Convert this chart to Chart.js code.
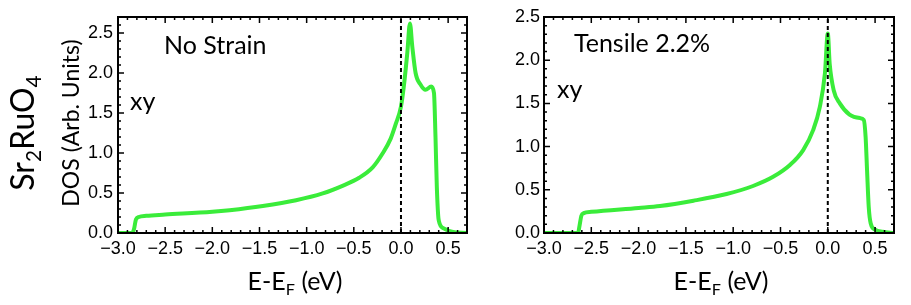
<!DOCTYPE html>
<html lang="en">
<head>
  <meta charset="UTF-8">
  <title>Sr2RuO4 DOS</title>
  <script src="https://cdn.jsdelivr.net/npm/chart.js@4.4.0/dist/chart.umd.min.js"></script>
  <style>
    body { margin: 0; background: #fff; }
    #wrap { position: relative; width: 911px; height: 305px; overflow: hidden; }
    canvas { position: absolute; top: 0; }
    .lbl { position: absolute; font-family: "Lato", sans-serif; color: #000; white-space: nowrap; line-height: 1; }
    .rot { transform: translate(-50%, -50%) rotate(-90deg); }
    .ctr { transform: translate(-50%, -50%); }
    sub { font-size: 65%; vertical-align: -0.3em; }
  </style>
</head>
<body>
  <div id="wrap">
    <canvas id="left" width="480" height="305" style="left:0"></canvas>
    <canvas id="right" width="461" height="305" style="left:450px"></canvas>

    <div class="lbl rot" style="left:25px;top:133px;font-size:32px">Sr<sub>2</sub>RuO<sub>4</sub></div>
    <div class="lbl rot" style="left:70px;top:123px;font-size:23px">DOS (Arb. Units)</div>

    <div class="lbl" style="left:164px;top:32px;font-size:25px">No Strain</div>
    <div class="lbl" style="left:130px;top:88px;font-size:25px">xy</div>
    <div class="lbl ctr" style="left:295px;top:283px;font-size:25px">E-E<sub>F</sub> (eV)</div>

    <div class="lbl" style="left:574px;top:30px;font-size:25px">Tensile 2.2%</div>
    <div class="lbl" style="left:557px;top:76px;font-size:25px">xy</div>
    <div class="lbl ctr" style="left:721px;top:283px;font-size:25px">E-E<sub>F</sub> (eV)</div>
  </div>

  <script>
    // energy (eV) and DOS for each panel
    const noStrainE   = [-3.0, -2.85, -2.83, -2.81, -2.78, -2.7, -2.5, -2.0, -1.816, -1.465, -1.112, -0.83, -0.62, -0.443, -0.30, -0.197, -0.109, -0.056, 0.0, 0.03, 0.067, 0.095, 0.12, 0.155, 0.21, 0.26, 0.32, 0.35, 0.366, 0.38, 0.40, 0.45, 0.54, 0.7]
    const noStrainDOS = [0.0, 0.0, 0.05, 0.17, 0.20, 0.215, 0.23, 0.265, 0.285, 0.3375, 0.41, 0.495, 0.59, 0.69, 0.82, 0.99, 1.18, 1.36, 1.58, 1.83, 2.25, 2.62, 2.33, 2.0, 1.85, 1.79, 1.83, 1.75, 1.2, 0.58, 0.16, 0.06, 0.016, 0.0]

    const tensileE   = [-3.0, -2.64, -2.625, -2.605, -2.58, -2.5, -2.0, -1.774, -1.42, -1.07, -0.79, -0.578, -0.40, -0.26, -0.155, -0.084, -0.03, 0.0, 0.02, 0.063, 0.127, 0.23, 0.34, 0.38, 0.40, 0.415, 0.433, 0.454, 0.50, 0.58, 0.7]
    const tensileDOS = [0.0, 0.0, 0.08, 0.20, 0.23, 0.245, 0.29, 0.3125, 0.374, 0.451, 0.544, 0.65, 0.787, 0.96, 1.19, 1.46, 1.85, 2.31, 1.96, 1.65, 1.50, 1.37, 1.33, 1.31, 1.11, 0.73, 0.30, 0.11, 0.04, 0.015, 0.0]

    const xRange = [-3.0, 0.7]
    const yMaxLeft = 2.7
    const yMaxRight = 2.5
    const fermi = 0.0

    const green = "rgb(58, 236, 58)"

    const fmt = v => v.toFixed(1).replace("-", "\u2212")

    // Mathematica-style frame with inward major/minor ticks on all sides
    const frame = {
      id: "frame",
      afterDatasetsDraw(chart) {
        const { ctx, chartArea: a, scales: { x, y } } = chart
        ctx.save()
        ctx.strokeStyle = "#000"
        ctx.lineWidth = 1.5
        ctx.beginPath()
        for (let i = Math.round(x.min * 10); i <= Math.round(x.max * 10); i++) {
          const len = i % 5 === 0 ? 6 : 3
          const px = x.getPixelForValue(i / 10)
          ctx.moveTo(px, a.bottom); ctx.lineTo(px, a.bottom - len)
          ctx.moveTo(px, a.top); ctx.lineTo(px, a.top + len)
        }
        for (let i = Math.round(y.min * 10); i <= Math.round(y.max * 10); i++) {
          const len = i % 5 === 0 ? 6 : 3
          const py = y.getPixelForValue(i / 10)
          ctx.moveTo(a.left, py); ctx.lineTo(a.left + len, py)
          ctx.moveTo(a.right, py); ctx.lineTo(a.right - len, py)
        }
        ctx.stroke()
        ctx.lineWidth = 2
        ctx.strokeRect(a.left, a.top, a.right - a.left, a.bottom - a.top)
        ctx.restore()
      }
    }

    function makeChart(id, xs, ys, yMax, yWidth, padRight, yPad) {
      const pts = xs.map((e, i) => ({ x: e, y: ys[i] }))
      return new Chart(document.getElementById(id), {
        type: "scatter",
        data: {
          datasets: [
            {
              data: [{ x: fermi, y: 0 }, { x: fermi, y: yMax }],
              showLine: true,
              borderColor: "#000",
              borderWidth: 2,
              borderDash: [4, 3],
              pointRadius: 0,
              order: 0
            },
            {
              data: pts,
              showLine: true,
              borderColor: green,
              borderWidth: 4,
              pointRadius: 0,
              cubicInterpolationMode: "monotone",
              order: 1
            }
          ]
        },
        options: {
          responsive: false,
          animation: false,
          layout: { padding: { top: 17, right: padRight, left: 0, bottom: 0 } },
          plugins: { legend: { display: false }, tooltip: { enabled: false } },
          scales: {
            x: {
              type: "linear",
              min: xRange[0],
              max: xRange[1],
              grid: { display: false, drawTicks: false },
              border: { display: false },
              afterFit: s => { s.height = 72 },
              ticks: {
                stepSize: 0.5,
                includeBounds: false,
                padding: 5,
                color: "#000",
                font: { family: "'Liberation Sans', Arial, sans-serif", size: 18 },
                callback: v => fmt(v)
              }
            },
            y: {
              type: "linear",
              min: 0,
              max: yMax,
              grid: { display: false, drawTicks: false },
              border: { display: false },
              afterFit: s => { s.width = yWidth },
              ticks: {
                stepSize: 0.5,
                includeBounds: false,
                padding: yPad,
                color: "#000",
                font: { family: "'Liberation Sans', Arial, sans-serif", size: 18 },
                callback: v => fmt(v)
              }
            }
          }
        },
        plugins: [frame]
      })
    }

    makeChart("left", noStrainE, noStrainDOS, yMaxLeft, 118, 13, 5)
    makeChart("right", tensileE, tensileDOS, yMaxRight, 94, 17, 4)
  </script>
</body>
</html>
